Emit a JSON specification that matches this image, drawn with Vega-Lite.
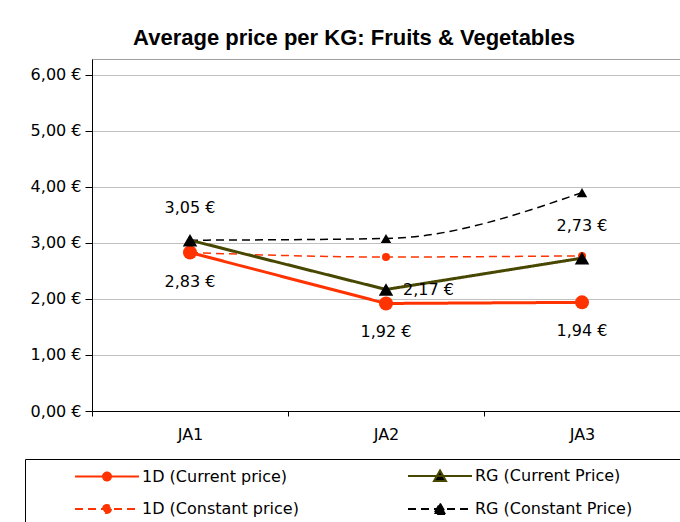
{
  "$schema": "https://vega.github.io/schema/vega-lite/v6.json",
  "width": 588,
  "height": 352,
  "autosize": "none",
  "padding": {"left": 92, "top": 59, "right": 0, "bottom": 111},
  "background": "white",
  "title": {
    "text": "Average price per KG: Fruits & Vegetables",
    "font": "Liberation Sans",
    "fontSize": 22,
    "fontWeight": "bold",
    "color": "black",
    "anchor": "middle",
    "dx": -32,
    "offset": 9
  },
  "config": {
    "locale": {"number": {"decimal": ",", "thousands": ".", "grouping": [3], "currency": ["", " €"]}},
    "font": "DejaVu Sans",
    "view": {"stroke": "#a0a0a0"},
    "axis": {
      "labelFont": "DejaVu Sans",
      "labelFontSize": 16,
      "labelColor": "black",
      "domainColor": "black",
      "tickColor": "black",
      "title": null
    },
    "legend": {
      "orient": "none",
      "legendX": -67,
      "legendY": 400,
      "columns": 2,
      "padding": 9,
      "strokeColor": "black",
      "strokeWidth": 1,
      "symbolSize": 100,
      "symbolStrokeWidth": 2,
      "symbolOffset": 65,
      "labelOffset": 27,
      "labelFont": "DejaVu Sans",
      "labelFontSize": 16,
      "labelColor": "black",
      "rowPadding": 14,
      "columnPadding": 68,
      "labelLimit": 300,
      "titleOrient": "right",
      "titlePadding": 42,
      "titleFontSize": 11
    }
  },
  "resolve": {"legend": {"fill": "independent", "stroke": "independent", "strokeDash": "independent", "shape": "independent"}},
  "data": {
    "values": [
      {"period": "JA1", "series": "1D (Current price)", "price": 2.83},
      {"period": "JA2", "series": "1D (Current price)", "price": 1.92},
      {"period": "JA3", "series": "1D (Current price)", "price": 1.94},
      {"period": "JA1", "series": "RG (Current Price)", "price": 3.05},
      {"period": "JA2", "series": "RG (Current Price)", "price": 2.17},
      {"period": "JA3", "series": "RG (Current Price)", "price": 2.73},
      {"period": "JA1", "series": "1D (Constant price)", "price": 2.83},
      {"period": "JA2", "series": "1D (Constant price)", "price": 2.75},
      {"period": "JA3", "series": "1D (Constant price)", "price": 2.77},
      {"period": "JA1", "series": "RG (Constant Price)", "price": 3.05},
      {"period": "JA2", "series": "RG (Constant Price)", "price": 3.08},
      {"period": "JA3", "series": "RG (Constant Price)", "price": 3.9}
    ]
  },
  "encoding": {
    "x": {
      "field": "period",
      "type": "nominal",
      "scale": {"type": "band", "paddingInner": 0, "paddingOuter": 0},
      "axis": {"labelAngle": 0, "tickBand": "extent", "tickSize": 5, "labelPadding": 10, "grid": false}
    },
    "y": {
      "field": "price",
      "type": "quantitative",
      "scale": {"domain": [0, 6.2857], "nice": false, "zero": true},
      "axis": {"values": [0, 1, 2, 3, 4, 5, 6], "format": "$.2f", "tickSize": 7, "labelPadding": 4, "grid": true, "gridColor": "#c0c0c0"}
    }
  },
  "layer": [
    {
      "transform": [{"filter": "indexof(datum.series, 'Constant') >= 0"}],
      "mark": {"type": "line", "strokeWidth": 1.5, "interpolate": "monotone"},
      "encoding": {
        "stroke": {"field": "series", "type": "nominal", "legend": null,
          "scale": {"domain": ["1D (Current price)", "1D (Constant price)", "RG (Current Price)", "RG (Constant Price)"], "range": ["#ff3300", "#ff3300", "#474700", "#000000"]}},
        "strokeDash": {"field": "series", "type": "nominal", "legend": null,
          "scale": {"domain": ["1D (Current price)", "1D (Constant price)", "RG (Current Price)", "RG (Constant Price)"], "range": [[1, 0], [8, 5], [1, 0], [8, 5]]}}
      }
    },
    {
      "transform": [{"filter": "indexof(datum.series, 'Current') >= 0"}],
      "mark": {"type": "line", "strokeWidth": 3},
      "encoding": {
        "stroke": {"field": "series", "type": "nominal", "legend": null},
        "strokeDash": {"field": "series", "type": "nominal", "legend": null}
      }
    },
    {
      "transform": [{"filter": "datum.series == '1D (Constant price)'"}],
      "mark": {"type": "point", "shape": "circle", "filled": true, "size": 64, "opacity": 1},
      "encoding": {"fill": {"field": "series", "type": "nominal", "legend": null}}
    },
    {
      "transform": [{"filter": "datum.series == 'RG (Constant Price)'"}],
      "mark": {"type": "point", "shape": "triangle-up", "filled": true, "size": 110, "opacity": 1},
      "encoding": {"fill": {"field": "series", "type": "nominal", "legend": null}}
    },
    {
      "transform": [{"filter": "datum.series == '1D (Current price)'"}],
      "mark": {"type": "point", "shape": "circle", "filled": true, "size": 196, "opacity": 1},
      "encoding": {"fill": {"field": "series", "type": "nominal", "legend": null}}
    },
    {
      "transform": [{"filter": "datum.series == 'RG (Current Price)'"}],
      "mark": {"type": "point", "shape": "triangle-up", "filled": true, "size": 210, "opacity": 1},
      "encoding": {"fill": {"field": "series", "type": "nominal", "legend": null}}
    },
    {
      "transform": [{"filter": "datum.series == '1D (Current price)'"}],
      "mark": {"type": "text", "font": "DejaVu Sans", "fontSize": 16, "color": "black", "align": "center", "baseline": "middle", "dy": 29},
      "encoding": {"text": {"field": "price", "type": "quantitative", "format": "$.2f"}}
    },
    {
      "transform": [{"filter": "datum.series == 'RG (Current Price)' && datum.period != 'JA2'"}],
      "mark": {"type": "text", "font": "DejaVu Sans", "fontSize": 16, "color": "black", "align": "center", "baseline": "middle", "dy": -32},
      "encoding": {"text": {"field": "price", "type": "quantitative", "format": "$.2f"}}
    },
    {
      "transform": [{"filter": "datum.series == 'RG (Current Price)' && datum.period == 'JA2'"}],
      "mark": {"type": "text", "font": "DejaVu Sans", "fontSize": 16, "color": "black", "align": "left", "baseline": "middle", "dx": 17, "dy": 1},
      "encoding": {"text": {"field": "price", "type": "quantitative", "format": "$.2f"}}
    },
    {
      "transform": [{"filter": "datum.price < 0"}],
      "mark": {"type": "point", "filled": true, "opacity": 1},
      "encoding": {
        "fill": {"field": "series", "type": "nominal", "legend": {"title": "\u00a0"},
          "scale": {"domain": ["1D (Current price)", "1D (Constant price)", "RG (Current Price)", "RG (Constant Price)"], "range": ["#ff3300", "#ff3300", "#000000", "#000000"]}},
        "stroke": {"field": "series", "type": "nominal", "legend": {"title": "\u00a0"}},
        "strokeDash": {"field": "series", "type": "nominal", "legend": {"title": "\u00a0"}},
        "shape": {"field": "series", "type": "nominal", "legend": {"title": "\u00a0"},
          "scale": {"domain": ["1D (Current price)", "1D (Constant price)", "RG (Current Price)", "RG (Constant Price)"],
            "range": [
              "M-6.4,0L6.4,0M0.8,0A0.8,0.8,0,1,1,-0.8,0A0.8,0.8,0,1,1,0.8,0Z",
              "M-6.4,0L6.4,0M0.8,0A0.8,0.8,0,1,1,-0.8,0A0.8,0.8,0,1,1,0.8,0Z",
              "M-6.4,0L6.4,0M0,-1.1L1.2,1L-1.2,1Z",
              "M-6.4,0L6.4,0M0,-1.1L1.2,1L-1.2,1Z"
            ]}}
      }
    }
  ]
}
